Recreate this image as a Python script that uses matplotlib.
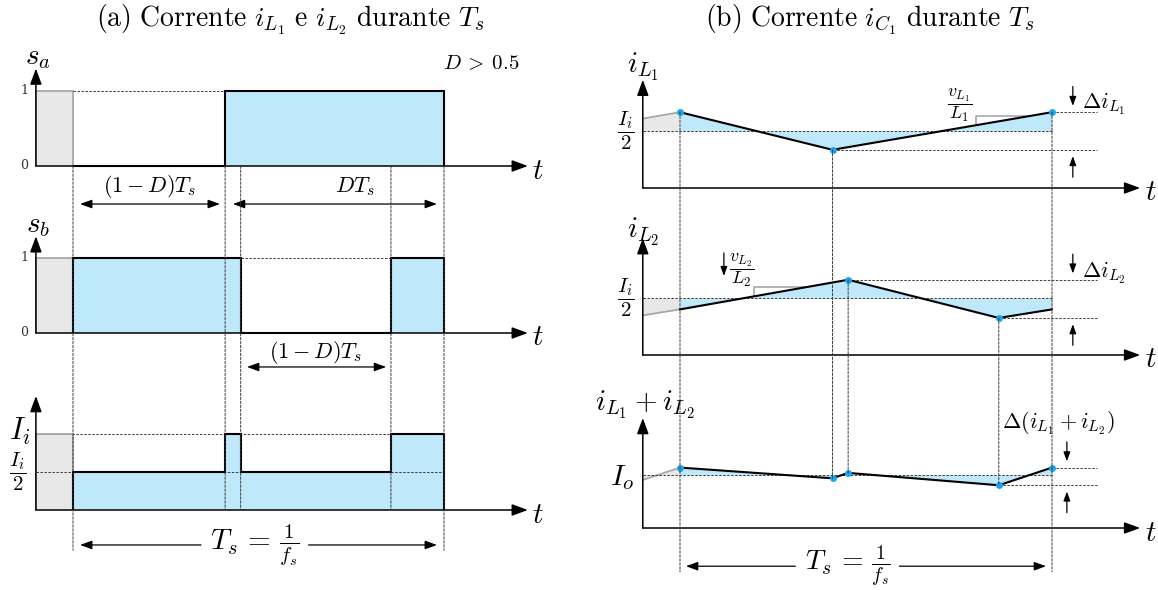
import numpy as np
import matplotlib as mpl
import matplotlib.pyplot as plt
from matplotlib.patches import ConnectionPatch

mpl.rcParams['mathtext.fontset'] = 'cm'
mpl.rcParams['font.family'] = ['DejaVu Serif']

# ---------------- data (time in units of Ts) ----------------
# gate signals of the two interleaved switches
sa_edges = [0.0, 0.41, 1.0]
sa_levels = [0, 1]
sb_edges = [0.0, 0.452, 0.857, 1.0]
sb_levels = [1, 0, 1]
# input current, in units of Ii
iin_edges = [0.0, 0.41, 0.452, 0.857, 1.0]
iin_levels = [0.5, 1.0, 0.5, 1.0]

# inductor currents, in units of Ii/2
iL1_t = [0.0, 0.41, 1.0]
iL1_v = [1.33, 0.67, 1.33]
iL2_t = [0.0, 0.452, 0.857, 1.0]
iL2_v = [0.80, 1.32, 0.65, 0.80]
Io_level = 2.0

# ---------------- style ----------------
BLUE = '#bfe9fb'
DOT = '#1ba6ec'
GRAY_FILL = '#e8e8e8'
GRAY_EDGE = '#a8a8a8'
DASH = dict(color='#3a3a3a', lw=0.7, ls=(0, (2.5, 1.6)))
T_AX = -0.1          # time at which the vertical axes are drawn

W, H = 1158, 590
fig = plt.figure(figsize=(W / 100, H / 100), dpi=100)


def make_axes(px_l, px_r, x_t0, px_T, py_top, py_bot, py_ref, v_ref, px_v):
    ax = fig.add_axes([px_l / W, 1 - py_bot / H, (px_r - px_l) / W, (py_bot - py_top) / H])
    ax.set_xlim((px_l - x_t0) / px_T, (px_r - x_t0) / px_T)
    ax.set_ylim(v_ref - (py_bot - py_ref) / px_v, v_ref + (py_ref - py_top) / px_v)
    ax.axis('off')
    ax.patch.set_visible(False)
    return ax


def frame(ax, base, v_tip, t_tip):
    arrow = dict(arrowstyle='-|>,head_length=0.6,head_width=0.22', color='black',
                 lw=1.1, mutation_scale=16, shrinkA=0, shrinkB=0)
    ax.annotate('', xy=(T_AX, v_tip), xytext=(T_AX, base), arrowprops=arrow,
                annotation_clip=False, zorder=6)
    ax.annotate('', xy=(t_tip, base), xytext=(T_AX, base), arrowprops=arrow,
                annotation_clip=False, zorder=6)
    ax.text(t_tip + 0.028, base - 0.025 * np.diff(ax.get_ylim())[0], r'$t$', fontsize=21,
            ha='center', va='center')


def dim_arrow(ax, t0, t1, v, style='<|-|>'):
    ax.annotate('', xy=(t1, v), xytext=(t0, v),
                arrowprops=dict(arrowstyle=style + ',head_length=0.55,head_width=0.2',
                                color='black', lw=0.9, mutation_scale=13,
                                shrinkA=0, shrinkB=0),
                annotation_clip=False, zorder=6)


def small_arrow(ax, t, v_from, v_to):
    ax.annotate('', xy=(t, v_to), xytext=(t, v_from),
                arrowprops=dict(arrowstyle='-|>,head_length=0.55,head_width=0.2',
                                color='black', lw=0.9, mutation_scale=10,
                                shrinkA=0, shrinkB=0),
                annotation_clip=False, zorder=6)


def period_arrow(ax, t0, t1, v, gap0, gap1, fs=21):
    # two-piece dimension arrow leaving room for the label in the middle
    dim_arrow(ax, gap0, t0, v, style='-|>')
    dim_arrow(ax, gap1, t1, v, style='-|>')
    ax.text((gap0 + gap1) / 2, v, r'$T_s\,=\,\frac{1}{f_s}$', fontsize=fs,
            ha='center', va='center')


def vlink(ax_a, va, ax_b, vb, t):
    con = ConnectionPatch(xyA=(t, va), coordsA=ax_a.transData,
                          xyB=(t, vb), coordsB=ax_b.transData, **DASH)
    con.set_zorder(0.5)
    fig.add_artist(con)


def digital_row(ax, levels, edges):
    tail = levels[-1]
    ax.stairs([tail], [T_AX, edges[0]], fill=True, color=GRAY_FILL, zorder=1)
    ax.stairs([tail], [T_AX, edges[0]], color=GRAY_EDGE, lw=1.3, zorder=2)
    ax.stairs(levels, edges, fill=True, color=BLUE, zorder=1)
    ax.stairs(levels, edges, color='black', lw=1.5, zorder=3)


def analog_row(ax, t, v, ref, dots):
    t = np.asarray(t, float)
    v = np.asarray(v, float)
    tp = np.array([T_AX, 0.0])
    vp = np.interp(tp + 1.0, t, v)
    ax.fill_between(tp, vp, ref, color=GRAY_FILL, lw=0, zorder=1)
    ax.plot(tp, vp, color=GRAY_EDGE, lw=1.3, zorder=2)
    ax.fill_between(t, v, ref, color=BLUE, lw=0, zorder=1)
    ax.hlines(ref, T_AX, 1.0, zorder=2, **DASH)
    ax.plot(t, v, color='black', lw=1.5, zorder=3)
    ax.plot(t[dots], v[dots], 'o', ms=5, color=DOT, mec='none', zorder=5)


# ---------------- panel (a) ----------------
ax_sa = make_axes(0, 578, 73, 371, 28, 215, 166, 0.0, 75)
ax_sb = make_axes(0, 578, 73, 371, 215, 380, 333, 0.0, 75)
ax_in = make_axes(0, 578, 73, 371, 380, 590, 510, 0.0, 76)

digital_row(ax_sa, sa_levels, sa_edges)
ax_sa.hlines(1, sa_edges[0], sa_edges[1], zorder=2, **DASH)
frame(ax_sa, 0.0, 1.30, 1.226)
ax_sa.text(-0.094, 1.45, r'$s_a$', fontsize=21, ha='center', va='center')
ax_sa.text(-0.132, 1, '1', fontsize=9, ha='center', va='center', color='#333')
ax_sa.text(-0.132, 0, '0', fontsize=9, ha='center', va='center', color='#333')
ax_sa.text(1.10, 1.37, r'$D\:>\:0.5$', fontsize=15, ha='center', va='center')
ax_sa.text(0.207, -0.27, r'$(1-D)T_s$', fontsize=16, ha='center', va='center')
dim_arrow(ax_sa, 0.019, 0.396, -0.507)
ax_sa.text(0.76, -0.27, r'$DT_s$', fontsize=16, ha='center', va='center')
dim_arrow(ax_sa, 0.431, 0.981, -0.507)

digital_row(ax_sb, sb_levels, sb_edges)
ax_sb.hlines(1, sb_edges[1], sb_edges[2], zorder=2, **DASH)
frame(ax_sb, 0.0, 1.29, 1.226)
ax_sb.text(-0.094, 1.44, r'$s_b$', fontsize=21, ha='center', va='center')
ax_sb.text(-0.132, 1, '1', fontsize=9, ha='center', va='center', color='#333')
ax_sb.text(-0.132, 0, '0', fontsize=9, ha='center', va='center', color='#333')
ax_sb.text(0.655, -0.26, r'$(1-D)T_s$', fontsize=16, ha='center', va='center')
dim_arrow(ax_sb, 0.469, 0.844, -0.453)

Ii = max(iin_levels)
ax_in.hlines([Ii, Ii / 2], T_AX, 1.0, zorder=2, **DASH)
digital_row(ax_in, iin_levels, iin_edges)
frame(ax_in, 0.0, 1.50, 1.226)
ax_in.text(-0.143, Ii * 1.03, r'$I_i$', fontsize=22, ha='center', va='center')
ax_in.text(-0.148, Ii / 2, r'$\dfrac{I_i}{2}$', fontsize=15, ha='center', va='center')
period_arrow(ax_in, 0.019, 0.981, -0.46, 0.345, 0.635)

for tv in (sa_edges[0], sa_edges[-1]):
    vlink(ax_sa, 0.0, ax_in, -0.53, tv)
for tv in (sa_edges[1], sb_edges[1], sb_edges[2]):
    vlink(ax_sa, 0.0, ax_in, 0.0, tv)

fig.text(290 / W, 1 - 20 / H,
         r'$\mathrm{(a)\ Corrente}\ i_{L_1}\ \mathrm{e}\ i_{L_2}\ \mathrm{durante}\ T_s$',
         fontsize=20, ha='center', va='center')

# ---------------- panel (b) ----------------
ax_l1 = make_axes(582, 1158, 680, 372, 28, 205, 188, 0.0, 57)
ax_l2 = make_axes(582, 1158, 680, 372, 205, 380, 355, 0.0, 57)
ax_su = make_axes(582, 1158, 680, 372, 380, 590, 475, Io_level, 57)

tS = np.union1d(iL1_t, iL2_t)
vS = np.interp(tS, iL1_t, iL1_v) + np.interp(tS, iL2_t, iL2_v)

analog_row(ax_l1, iL1_t, iL1_v, 1.0, [0, 1, 2])
analog_row(ax_l2, iL2_t, iL2_v, 1.0, [1, 2])
analog_row(ax_su, tS, vS, Io_level, list(range(len(tS))))

T_END = 1.121
for ax, t, v, t_arr in ((ax_l1, iL1_t, iL1_v, 1.056), (ax_l2, iL2_t, iL2_v, 1.056),
                        (ax_su, tS, vS, 1.040)):
    v = np.asarray(v)
    t = np.asarray(t)
    vmax, vmin = v.max(), v.min()
    ax.hlines(vmax, t[np.argmax(v)] if ax is ax_l2 else 1.0, T_END, zorder=2, **DASH)
    ax.hlines(vmin, t[np.argmin(v)], T_END, zorder=2, **DASH)
    small_arrow(ax, t_arr, vmax + 0.45, vmax + 0.11)
    small_arrow(ax, t_arr, vmin - 0.48, vmin - 0.11)

frame(ax_l1, 0.0, 1.90, 1.237)
frame(ax_l2, 0.0, 2.05, 1.237)
SUM_AXIS = Io_level - 53 / 57
frame(ax_su, SUM_AXIS, 3.0, 1.237)

ax_l1.text(-0.1, 2.12, r'$i_{L_1}$', fontsize=21, ha='center', va='center')
ax_l1.text(-0.145, 1.0, r'$\dfrac{I_i}{2}$', fontsize=15, ha='center', va='center')
ax_l1.text(1.081, max(iL1_v) + 0.14, r'$\Delta i_{L_1}$', fontsize=16, ha='left', va='center')
ax_l2.text(-0.1, 2.16, r'$i_{L_2}$', fontsize=21, ha='center', va='center')
ax_l2.text(-0.145, 1.0, r'$\dfrac{I_i}{2}$', fontsize=15, ha='center', va='center')
ax_l2.text(1.081, max(iL2_v) + 0.12, r'$\Delta i_{L_2}$', fontsize=16, ha='left', va='center')
ax_su.text(-0.094, 3.23, r'$i_{L_1} + i_{L_2}$', fontsize=21, ha='center', va='center')
ax_su.text(-0.156, Io_level - 0.04, r'$I_o$', fontsize=21, ha='center', va='center')
ax_su.text(1.016, 2.91, r'$\Delta(i_{L_1} + i_{L_2})$', fontsize=16, ha='center', va='center')

# slope markers
t_a = 0.796
v_a = np.interp(t_a, iL1_t, iL1_v)
v_b = 1.263
t_b = np.interp(v_b, [iL1_v[1], iL1_v[2]], [iL1_t[1], iL1_t[2]])
ax_l1.plot([t_a, t_a, t_b], [v_a, v_b, v_b], color=GRAY_EDGE, lw=1.2, zorder=2)
ax_l1.text(0.753, 1.45, r'$\dfrac{v_{L_1}}{L_1}$', fontsize=13, ha='center', va='center')

t_a = 0.199
v_a = np.interp(t_a, iL2_t, iL2_v)
v_b = 1.193
t_b = np.interp(v_b, [iL2_v[0], iL2_v[1]], [iL2_t[0], iL2_t[1]])
ax_l2.plot([t_a, t_a, t_b], [v_a, v_b, v_b], color=GRAY_EDGE, lw=1.2, zorder=2)
ax_l2.text(0.167, 1.49, r'$\dfrac{v_{L_2}}{L_2}$', fontsize=13, ha='center', va='center')
small_arrow(ax_l2, 0.118, 1.79, 1.386)

period_arrow(ax_su, 0.016, 0.984, 0.40, 0.31, 0.59, fs=20)

for tv in (0.0, 1.0):
    vlink(ax_l1, np.interp(tv, iL1_t, iL1_v), ax_su, 0.30, tv)
vlink(ax_l1, iL1_v[1], ax_su, np.interp(iL1_t[1], tS, vS), iL1_t[1])
vlink(ax_l2, iL2_v[1], ax_su, np.interp(iL2_t[1], tS, vS), iL2_t[1])
vlink(ax_l2, iL2_v[2], ax_su, np.interp(iL2_t[2], tS, vS), iL2_t[2])

fig.text(870 / W, 1 - 20 / H,
         r'$\mathrm{(b)\ Corrente}\ i_{C_1}\ \mathrm{durante}\ T_s$',
         fontsize=20, ha='center', va='center')

fig.savefig('out.png', dpi=100, facecolor='white')
